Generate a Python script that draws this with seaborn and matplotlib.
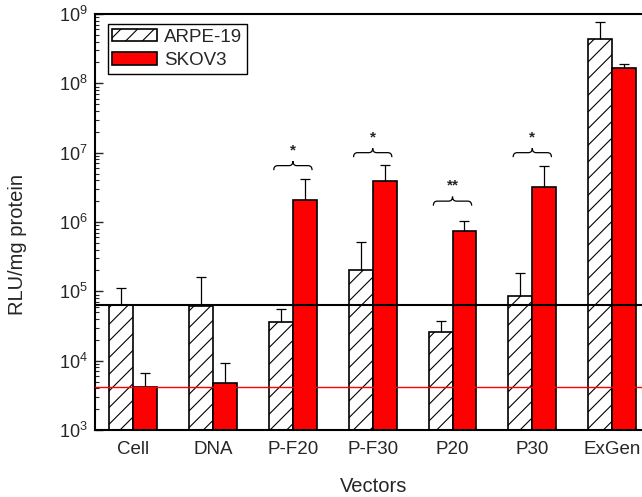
"""Luciferase expression (RLU/mg protein) for vectors in ARPE-19 vs SKOV3 cells."""
import matplotlib
matplotlib.use("Agg")
import matplotlib.pyplot as plt
import matplotlib.ticker as mticker
from matplotlib.path import Path
from matplotlib.patches import PathPatch
import numpy as np
import pandas as pd
import seaborn as sns

VECTORS = ["Cell", "DNA", "P-F20", "P-F30", "P20", "P30", "ExGen"]
CELL_LINES = ["ARPE-19", "SKOV3"]
ARPE_MEAN = [6.3e4, 6.1e4, 3.6e4, 2.0e5, 2.6e4, 8.7e4, 4.3e8]
ARPE_UPPER = [1.12e5, 1.63e5, 5.6e4, 5.1e5, 3.7e4, 1.86e5, 7.6e8]
SKOV_MEAN = [4.2e3, 4.7e3, 2.1e6, 3.9e6, 7.4e5, 3.2e6, 1.66e8]
SKOV_UPPER = [6.6e3, 9.3e3, 4.2e6, 6.6e6, 1.05e6, 6.4e6, 1.9e8]
ARPE_BASELINE = 6.3e4
SKOV_BASELINE = 4.2e3
SIG_VECTORS = ["P-F20", "P-F30", "P20", "P30"]
SIG_LABELS = ["*", "*", "**", "*"]
SIG_BRACE_Y = [6.5e6, 1.0e7, 2.0e6, 1.0e7]
Y_MIN, Y_MAX = 1e3, 1e9

RED = "#ff0000"

sns.set_style("ticks")
plt.rcParams.update({
    "font.family": ["Liberation Sans", "DejaVu Sans"],
    "mathtext.default": "regular",
    "hatch.linewidth": 0.8,
    "axes.linewidth": 1.5,
})


def draw_brace(ax, xc, y, half=0.24, label="*"):
    """Horizontal curly brace with a significance label above it."""
    ly = np.log10(y)
    d, e = 0.065, 0.05
    x0, x1 = xc - half, xc + half
    pts = [
        (x0, ly - d), (x0, ly), (x0 + e, ly),
        (xc - e, ly), (xc, ly), (xc, ly + d),
        (xc, ly), (xc + e, ly),
        (x1 - e, ly), (x1, ly), (x1, ly - d),
    ]
    codes = [Path.MOVETO, Path.CURVE3, Path.CURVE3,
             Path.LINETO, Path.CURVE3, Path.CURVE3,
             Path.CURVE3, Path.CURVE3,
             Path.LINETO, Path.CURVE3, Path.CURVE3]
    verts = [(px, 10 ** py) for px, py in pts]
    ax.add_patch(PathPatch(Path(verts, codes), fill=False, lw=0.9,
                           edgecolor="black", transform=ax.transData))
    ax.text(xc, 10 ** (ly + 0.22), label, ha="center", va="center",
            fontsize=11, fontweight="bold")


def log_label(v, _):
    if v < Y_MIN * 0.99 or v > Y_MAX * 1.01:
        return ""
    return f"$10^{{{int(round(np.log10(v)))}}}$"


df = pd.DataFrame({
    "vector": VECTORS * 2,
    "line": [CELL_LINES[0]] * len(VECTORS) + [CELL_LINES[1]] * len(VECTORS),
    "rlu": ARPE_MEAN + SKOV_MEAN,
})

fig = plt.figure(figsize=(6.42, 4.97), dpi=100)
ax = fig.add_axes([95 / 642, 67 / 497, 557 / 642, 416 / 497])

sns.barplot(data=df, x="vector", y="rlu", hue="line", order=VECTORS,
            hue_order=CELL_LINES, palette=["white", RED], width=0.6, gap=0,
            errorbar=None, edgecolor="black", linewidth=1.2, saturation=1,
            legend=False, ax=ax)
ax.set_yscale("log")

arpe_bars, skov_bars = ax.containers[0], ax.containers[1]
for bar in arpe_bars:
    bar.set_hatch("//")

for bars, mean, upper in [(arpe_bars, ARPE_MEAN, ARPE_UPPER),
                          (skov_bars, SKOV_MEAN, SKOV_UPPER)]:
    xs = [b.get_x() + b.get_width() / 2 for b in bars]
    err = [np.zeros(len(mean)), np.array(upper) - np.array(mean)]
    cont = ax.errorbar(xs, mean, yerr=err, fmt="none", ecolor="black",
                       elinewidth=0.9, capsize=3.5, capthick=0.9, zorder=1)
    cont.lines[1][0].set_visible(False)

ax.axhline(ARPE_BASELINE, color="black", lw=1.5, zorder=3)
ax.axhline(SKOV_BASELINE, color=RED, lw=1.0, zorder=3)

for vec, lab, yb in zip(SIG_VECTORS, SIG_LABELS, SIG_BRACE_Y):
    draw_brace(ax, VECTORS.index(vec), yb, label=lab)

ax.set_ylim(Y_MIN, Y_MAX)
ax.set_xlim(-0.48, 6.5)
ax.yaxis.set_major_locator(mticker.LogLocator(base=10, numticks=10))
ax.yaxis.set_minor_locator(mticker.LogLocator(base=10, subs=np.arange(2, 10), numticks=20))
ax.yaxis.set_major_formatter(mticker.FuncFormatter(log_label))
ax.yaxis.set_minor_formatter(mticker.NullFormatter())
ax.tick_params(axis="y", which="major", direction="in", length=6, width=1.0,
               labelsize=13, pad=5)
ax.tick_params(axis="y", which="minor", direction="in", length=3, width=0.8)
ax.tick_params(axis="x", length=0, labelsize=13.5, pad=8)
ax.spines["right"].set_visible(False)
for s in ["top", "left", "bottom"]:
    ax.spines[s].set_color("black")

ax.set_xlabel("Vectors", fontsize=14.5)
ax.set_ylabel("RLU/mg protein", fontsize=14.5)
ax.xaxis.set_label_coords(0.5, -0.113)
ax.yaxis.set_label_coords(-0.122, 0.447)

leg = ax.legend([arpe_bars, skov_bars], CELL_LINES, loc="upper left",
                bbox_to_anchor=(0.023, 0.976), fontsize=13.5, frameon=True,
                fancybox=False, edgecolor="black", framealpha=1,
                handlelength=2.4, handleheight=0.67, handletextpad=0.35,
                borderpad=0.25, labelspacing=0.35, borderaxespad=0)
leg.get_frame().set_linewidth(1.0)

fig.savefig("out.png", dpi=100)
